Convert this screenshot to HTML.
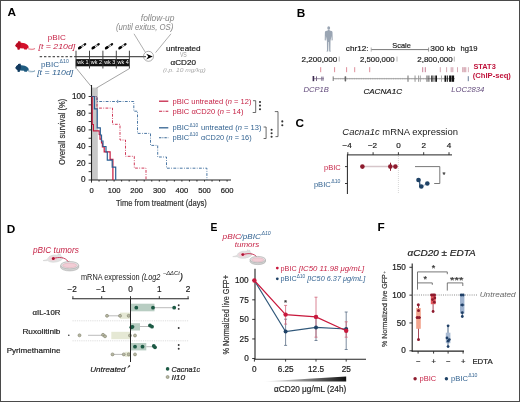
<!DOCTYPE html>
<html><head><meta charset="utf-8"><style>
html,body{margin:0;padding:0;background:#fff;}
svg{display:block;font-family:"Liberation Sans",sans-serif;will-change:transform;}
</style></head><body>
<svg width="520" height="402" viewBox="0 0 520 402">
<rect x="0" y="0" width="520" height="402" fill="#fff"/>
<text x="7.6" y="16.2" font-size="11.8" fill="#000" font-weight="bold">A</text>
<path d="M15.30,45.70 C15.90,44.30 16.80,43.30 17.80,42.80 L18.10,41.60 L20.30,41.50 L20.60,42.90 C22.80,42.70 25.80,43.30 27.60,45.10 C28.60,46.10 28.90,47.30 28.30,48.10 L27.10,48.50 L26.90,49.50 L24.30,49.50 L23.90,48.50 L19.70,48.30 L19.50,49.40 L17.70,49.40 L17.50,47.60 C16.70,47.30 15.80,46.60 15.30,45.70 Z" stroke="none" fill="#d3102b" stroke-width="1"/>
<path d="M15.30,45.70 C15.90,44.30 16.80,43.30 17.80,42.80 L18.10,41.60 L20.30,41.50 L20.60,42.90 C21.30,44.50 20.80,46.50 19.70,48.30 L19.50,49.40 L17.70,49.40 L17.50,47.60 C16.70,47.30 15.80,46.60 15.30,45.70 Z" stroke="none" fill="#b80c22" stroke-width="1"/>
<path d="M27.90,47.90 C29.90,49.10 32.50,49.40 34.70,48.80 L34.40,48.00 M34.70,48.80 C32.30,50.00 29.50,49.90 27.70,48.70" stroke="#d3102b" fill="none" stroke-width="0.5" opacity="0.7"/>
<path d="M15.40,68.00 C16.00,66.60 16.90,65.60 17.90,65.10 L18.20,63.90 L20.40,63.80 L20.70,65.20 C22.90,65.00 25.90,65.60 27.70,67.40 C28.70,68.40 29.00,69.60 28.40,70.40 L27.20,70.80 L27.00,71.80 L24.40,71.80 L24.00,70.80 L19.80,70.60 L19.60,71.70 L17.80,71.70 L17.60,69.90 C16.80,69.60 15.90,68.90 15.40,68.00 Z" stroke="none" fill="#1f5b80" stroke-width="1"/>
<path d="M15.40,68.00 C16.00,66.60 16.90,65.60 17.90,65.10 L18.20,63.90 L20.40,63.80 L20.70,65.20 C21.40,66.80 20.90,68.80 19.80,70.60 L19.60,71.70 L17.80,71.70 L17.60,69.90 C16.80,69.60 15.90,68.90 15.40,68.00 Z" stroke="none" fill="#143a5e" stroke-width="1"/>
<path d="M28.00,70.20 C30.00,71.40 32.60,71.70 34.80,71.10 L34.50,70.30 M34.80,71.10 C32.40,72.30 29.60,72.20 27.80,71.00" stroke="#1f5b80" fill="none" stroke-width="0.5" opacity="0.7"/>
<text x="47.8" y="39.7" font-size="8" fill="#c62447" textLength="18" lengthAdjust="spacingAndGlyphs">pBIC</text>
<text x="38.5" y="49.2" font-size="8" fill="#c62447" font-style="italic" textLength="36.7" lengthAdjust="spacingAndGlyphs">[t = 210d]</text>
<text x="41" y="66.7" font-size="8" fill="#336391" textLength="18" lengthAdjust="spacingAndGlyphs">pBIC</text>
<text x="59.6" y="62.6" font-size="4.6" fill="#336391" textLength="9.2" lengthAdjust="spacingAndGlyphs">Δ10</text>
<text x="37.2" y="75" font-size="8" fill="#336391" font-style="italic" textLength="36" lengthAdjust="spacingAndGlyphs">[t = 110d]</text>
<line x1="39.7" y1="56.7" x2="76" y2="56.7" stroke="#555" stroke-width="1.2" stroke-dasharray="2.4 1.9"/>
<line x1="76" y1="56.6" x2="146" y2="56.6" stroke="#555" stroke-width="1.3"/>
<rect x="75.8" y="59.1" width="53.5" height="7.2" fill="#111"/>
<line x1="76" y1="50.7" x2="76" y2="68.5" stroke="#333" stroke-width="0.9"/>
<line x1="89.5" y1="50.7" x2="89.5" y2="68.5" stroke="#333" stroke-width="0.9"/>
<line x1="102.9" y1="50.7" x2="102.9" y2="68.5" stroke="#333" stroke-width="0.9"/>
<line x1="116.3" y1="50.7" x2="116.3" y2="68.5" stroke="#333" stroke-width="0.9"/>
<line x1="129.4" y1="50.7" x2="129.4" y2="68.5" stroke="#333" stroke-width="0.9"/>
<text x="77.3" y="64.4" font-size="5.5" fill="#fff" textLength="11.2" lengthAdjust="spacingAndGlyphs">wk 1</text>
<text x="90.8" y="64.4" font-size="5.5" fill="#fff" textLength="11.2" lengthAdjust="spacingAndGlyphs">wk 2</text>
<text x="104.2" y="64.4" font-size="5.5" fill="#fff" textLength="11.2" lengthAdjust="spacingAndGlyphs">wk 3</text>
<text x="117.6" y="64.4" font-size="5.5" fill="#fff" textLength="11.2" lengthAdjust="spacingAndGlyphs">wk 4</text>
<line x1="79.6" y1="47.8" x2="84.9" y2="44.4" stroke="#6a6a6a" stroke-width="2.1" stroke-linecap="round"/>
<ellipse cx="79.9" cy="47.7" rx="2.2" ry="1.35" fill="#000" transform="rotate(-33 79.9 47.7)"/>
<ellipse cx="84.9" cy="44.4" rx="1.5" ry="1.1" fill="#111" transform="rotate(-33 84.9 44.4)"/>
<circle cx="82" cy="46.3" r="0.55" fill="#fff" stroke="none" stroke-width="0.6"/>
<circle cx="83.4" cy="45.4" r="0.55" fill="#fff" stroke="none" stroke-width="0.6"/>
<line x1="93.1" y1="47.8" x2="98.4" y2="44.4" stroke="#6a6a6a" stroke-width="2.1" stroke-linecap="round"/>
<ellipse cx="93.4" cy="47.7" rx="2.2" ry="1.35" fill="#000" transform="rotate(-33 93.4 47.7)"/>
<ellipse cx="98.4" cy="44.4" rx="1.5" ry="1.1" fill="#111" transform="rotate(-33 98.4 44.4)"/>
<circle cx="95.5" cy="46.3" r="0.55" fill="#fff" stroke="none" stroke-width="0.6"/>
<circle cx="96.9" cy="45.4" r="0.55" fill="#fff" stroke="none" stroke-width="0.6"/>
<line x1="106.5" y1="47.8" x2="111.80000000000001" y2="44.4" stroke="#6a6a6a" stroke-width="2.1" stroke-linecap="round"/>
<ellipse cx="106.80000000000001" cy="47.7" rx="2.2" ry="1.35" fill="#000" transform="rotate(-33 106.80000000000001 47.7)"/>
<ellipse cx="111.80000000000001" cy="44.4" rx="1.5" ry="1.1" fill="#111" transform="rotate(-33 111.80000000000001 44.4)"/>
<circle cx="108.9" cy="46.3" r="0.55" fill="#fff" stroke="none" stroke-width="0.6"/>
<circle cx="110.30000000000001" cy="45.4" r="0.55" fill="#fff" stroke="none" stroke-width="0.6"/>
<line x1="119.89999999999999" y1="47.8" x2="125.2" y2="44.4" stroke="#6a6a6a" stroke-width="2.1" stroke-linecap="round"/>
<ellipse cx="120.2" cy="47.7" rx="2.2" ry="1.35" fill="#000" transform="rotate(-33 120.2 47.7)"/>
<ellipse cx="125.2" cy="44.4" rx="1.5" ry="1.1" fill="#111" transform="rotate(-33 125.2 44.4)"/>
<circle cx="122.3" cy="46.3" r="0.55" fill="#fff" stroke="none" stroke-width="0.6"/>
<circle cx="123.7" cy="45.4" r="0.55" fill="#fff" stroke="none" stroke-width="0.6"/>
<text x="174.5" y="20.7" font-size="8.4" fill="#858585" font-style="italic" text-anchor="end" textLength="33.7" lengthAdjust="spacingAndGlyphs">follow-up</text>
<text x="173.4" y="30.3" font-size="8.2" fill="#858585" font-style="italic" text-anchor="end" textLength="57.5" lengthAdjust="spacingAndGlyphs">(until exitus, OS)</text>
<line x1="134" y1="33.8" x2="145.3" y2="52.2" stroke="#777" stroke-width="0.6"/>
<line x1="171" y1="33.8" x2="155.6" y2="52.6" stroke="#777" stroke-width="0.6"/>
<circle cx="148.5" cy="56.3" r="5" fill="none" stroke="#777" stroke-width="0.6"/>
<path d="M152.8,56.6 L146.2,53.7 L148.3,56.6 L146.2,59.5 Z" stroke="none" fill="#000" stroke-width="1"/>
<text x="166" y="51" font-size="8.1" fill="#222" textLength="34.6" lengthAdjust="spacingAndGlyphs" stroke="#222" stroke-width="0.2">untreated</text>
<text x="179.9" y="57.2" font-size="7.2" fill="#a0a0a0" textLength="6.9" lengthAdjust="spacingAndGlyphs">VS</text>
<text x="170.6" y="64.8" font-size="7.8" fill="#222" textLength="25.4" lengthAdjust="spacingAndGlyphs" stroke="#222" stroke-width="0.2">αCD20</text>
<text x="163" y="71.8" font-size="6.2" fill="#aaa" font-style="italic" textLength="42.7" lengthAdjust="spacingAndGlyphs">(i.p. 10 mg/kg)</text>
<rect x="91.5" y="87.6" width="6.3" height="92.4" fill="#c8c8c8"/>
<line x1="76.6" y1="68.6" x2="90.8" y2="86" stroke="#666" stroke-width="0.6"/>
<line x1="129.4" y1="68.6" x2="96.5" y2="88" stroke="#666" stroke-width="0.6"/>
<line x1="91.5" y1="85" x2="91.5" y2="180.5" stroke="#222" stroke-width="1.1"/>
<line x1="91" y1="180" x2="231" y2="180" stroke="#222" stroke-width="1.1"/>
<line x1="91.5" y1="180" x2="91.5" y2="182.6" stroke="#222" stroke-width="0.9"/>
<line x1="99.03333333333333" y1="180" x2="99.03333333333333" y2="181.6" stroke="#222" stroke-width="0.9"/>
<line x1="106.56666666666666" y1="180" x2="106.56666666666666" y2="181.6" stroke="#222" stroke-width="0.9"/>
<line x1="114.10000000000001" y1="180" x2="114.10000000000001" y2="181.6" stroke="#222" stroke-width="0.9"/>
<line x1="121.63333333333334" y1="180" x2="121.63333333333334" y2="181.6" stroke="#222" stroke-width="0.9"/>
<line x1="129.16666666666666" y1="180" x2="129.16666666666666" y2="181.6" stroke="#222" stroke-width="0.9"/>
<line x1="136.70000000000002" y1="180" x2="136.70000000000002" y2="181.6" stroke="#222" stroke-width="0.9"/>
<line x1="144.23333333333335" y1="180" x2="144.23333333333335" y2="181.6" stroke="#222" stroke-width="0.9"/>
<line x1="151.76666666666668" y1="180" x2="151.76666666666668" y2="181.6" stroke="#222" stroke-width="0.9"/>
<line x1="159.3" y1="180" x2="159.3" y2="181.6" stroke="#222" stroke-width="0.9"/>
<line x1="166.83333333333331" y1="180" x2="166.83333333333331" y2="181.6" stroke="#222" stroke-width="0.9"/>
<line x1="174.36666666666667" y1="180" x2="174.36666666666667" y2="181.6" stroke="#222" stroke-width="0.9"/>
<line x1="181.90000000000003" y1="180" x2="181.90000000000003" y2="181.6" stroke="#222" stroke-width="0.9"/>
<line x1="189.43333333333334" y1="180" x2="189.43333333333334" y2="181.6" stroke="#222" stroke-width="0.9"/>
<line x1="196.9666666666667" y1="180" x2="196.9666666666667" y2="181.6" stroke="#222" stroke-width="0.9"/>
<line x1="204.5" y1="180" x2="204.5" y2="181.6" stroke="#222" stroke-width="0.9"/>
<line x1="212.03333333333336" y1="180" x2="212.03333333333336" y2="181.6" stroke="#222" stroke-width="0.9"/>
<line x1="219.5666666666667" y1="180" x2="219.5666666666667" y2="181.6" stroke="#222" stroke-width="0.9"/>
<line x1="227.1" y1="180" x2="227.1" y2="181.6" stroke="#222" stroke-width="0.9"/>
<line x1="88.6" y1="180.0" x2="91.5" y2="180.0" stroke="#222" stroke-width="0.9"/>
<line x1="88.6" y1="171.65" x2="91.5" y2="171.65" stroke="#222" stroke-width="0.9"/>
<line x1="88.6" y1="163.3" x2="91.5" y2="163.3" stroke="#222" stroke-width="0.9"/>
<line x1="88.6" y1="154.95" x2="91.5" y2="154.95" stroke="#222" stroke-width="0.9"/>
<line x1="88.6" y1="146.6" x2="91.5" y2="146.6" stroke="#222" stroke-width="0.9"/>
<line x1="88.6" y1="138.25" x2="91.5" y2="138.25" stroke="#222" stroke-width="0.9"/>
<line x1="88.6" y1="129.9" x2="91.5" y2="129.9" stroke="#222" stroke-width="0.9"/>
<line x1="88.6" y1="121.55000000000001" x2="91.5" y2="121.55000000000001" stroke="#222" stroke-width="0.9"/>
<line x1="88.6" y1="113.2" x2="91.5" y2="113.2" stroke="#222" stroke-width="0.9"/>
<line x1="88.6" y1="104.85000000000001" x2="91.5" y2="104.85000000000001" stroke="#222" stroke-width="0.9"/>
<line x1="88.6" y1="96.5" x2="91.5" y2="96.5" stroke="#222" stroke-width="0.9"/>
<text x="85.6" y="182.4" font-size="8.2" fill="#222" text-anchor="end" stroke="#222" stroke-width="0.2">0</text>
<text x="85.6" y="165.70000000000002" font-size="8.2" fill="#222" text-anchor="end" stroke="#222" stroke-width="0.2">20</text>
<text x="85.6" y="149.0" font-size="8.2" fill="#222" text-anchor="end" stroke="#222" stroke-width="0.2">40</text>
<text x="85.6" y="132.3" font-size="8.2" fill="#222" text-anchor="end" stroke="#222" stroke-width="0.2">60</text>
<text x="85.6" y="115.60000000000001" font-size="8.2" fill="#222" text-anchor="end" stroke="#222" stroke-width="0.2">80</text>
<text x="85.6" y="98.9" font-size="8.2" fill="#222" text-anchor="end" stroke="#222" stroke-width="0.2">100</text>
<text x="91.5" y="192.7" font-size="7.6" fill="#222" text-anchor="middle" stroke="#222" stroke-width="0.2">0</text>
<text x="114.1" y="192.7" font-size="7.6" fill="#222" text-anchor="middle" stroke="#222" stroke-width="0.2">100</text>
<text x="136.7" y="192.7" font-size="7.6" fill="#222" text-anchor="middle" stroke="#222" stroke-width="0.2">200</text>
<text x="159.3" y="192.7" font-size="7.6" fill="#222" text-anchor="middle" stroke="#222" stroke-width="0.2">300</text>
<text x="181.9" y="192.7" font-size="7.6" fill="#222" text-anchor="middle" stroke="#222" stroke-width="0.2">400</text>
<text x="204.5" y="192.7" font-size="7.6" fill="#222" text-anchor="middle" stroke="#222" stroke-width="0.2">500</text>
<text x="227.10000000000002" y="192.7" font-size="7.6" fill="#222" text-anchor="middle" stroke="#222" stroke-width="0.2">600</text>
<text x="161.4" y="205.5" font-size="9.2" fill="#333" text-anchor="middle" textLength="90.8" lengthAdjust="spacingAndGlyphs" stroke="#333" stroke-width="0.2">Time from treatment (days)</text>
<text x="0" y="0" font-size="8.9" fill="#333" text-anchor="middle" textLength="66.3" lengthAdjust="spacingAndGlyphs" stroke="#333" stroke-width="0.2" transform="translate(65.2,131.8) rotate(-90)">Overall survival (%)</text>
<path d="M91.5,96.5 H92.2 V124.5 H93.4 V130.9 H99.2 V134.5 H100 V139.2 H101.5 V143 H102.4 V147 H104.2 V151.8 H110.1 V159.4 H112.9 V180" stroke="#c8183c" fill="none" stroke-width="1.2"/>
<path d="M91.5,96.5 H94.4 V108.8 H97.2 V127.8 H100.3 V135 H101.5 V141 H103 V146.5 H106 V152 H107.3 V160.1 H112.2 V167.1 H115.7 V180" stroke="#2b5f93" fill="none" stroke-width="1.2"/>
<path d="M91.5,96.5 H97 V108.1 H112.5 V124.3 H120 V140 H125.5 V156.3 H134.3 V168.1 H146 V180" stroke="#c8183c" fill="none" stroke-width="0.85" stroke-dasharray="2.8 1.4 0.8 1.4"/>
<path d="M91.5,96.5 H97 V101.5 H133.8 V111.2 H137.5 V133.4 H150.5 V145.4 H157.7 V157 H166.5 V168.2 H206.9 V180" stroke="#2b5f93" fill="none" stroke-width="0.85" stroke-dasharray="2.8 1.4 0.8 1.4"/>
<line x1="117.7" y1="99.9" x2="117.7" y2="103" stroke="#2b5f93" stroke-width="0.7"/>
<line x1="159" y1="101.2" x2="168.3" y2="101.2" stroke="#c62447" stroke-width="1.3"/>
<line x1="159" y1="111.3" x2="168.3" y2="111.3" stroke="#c62447" stroke-width="1.1" stroke-dasharray="3.2 1.2 1 1.2"/>
<line x1="159" y1="127.8" x2="168.3" y2="127.8" stroke="#336391" stroke-width="1.3"/>
<line x1="159" y1="137.8" x2="168.3" y2="137.8" stroke="#336391" stroke-width="1.1" stroke-dasharray="2.4 1 1 1"/>
<text x="172.5" y="103.5" font-size="7.4" fill="#c62447" textLength="79" lengthAdjust="spacingAndGlyphs">pBIC untreated (<tspan font-style="italic">n</tspan> = 12)</text>
<text x="172.5" y="113.8" font-size="7.4" fill="#c62447" textLength="71" lengthAdjust="spacingAndGlyphs">pBIC αCD20 (<tspan font-style="italic">n</tspan> = 14)</text>
<text x="172.5" y="130.1" font-size="7.4" fill="#336391" textLength="16.6" lengthAdjust="spacingAndGlyphs">pBIC</text>
<text x="189.6" y="126.6" font-size="4.6" fill="#336391" textLength="8.6" lengthAdjust="spacingAndGlyphs">Δ10</text>
<text x="201.1" y="130.1" font-size="7.4" fill="#336391" textLength="60.4" lengthAdjust="spacingAndGlyphs">untreated (<tspan font-style="italic">n</tspan> = 13)</text>
<text x="172.5" y="139.9" font-size="7.4" fill="#336391" textLength="16.6" lengthAdjust="spacingAndGlyphs">pBIC</text>
<text x="189.6" y="136.4" font-size="4.6" fill="#336391" textLength="8.6" lengthAdjust="spacingAndGlyphs">Δ10</text>
<text x="201.1" y="139.9" font-size="7.4" fill="#336391" textLength="50.5" lengthAdjust="spacingAndGlyphs">αCD20 (<tspan font-style="italic">n</tspan> = 16)</text>
<path d="M253,100.7 H255.7 V112.5 H252.7" stroke="#444" fill="none" stroke-width="0.8"/>
<path d="M263.6,127 H266.1 V138.5 H263.6" stroke="#444" fill="none" stroke-width="0.8"/>
<path d="M274.8,111.6 H278 V136.6 H275.5" stroke="#444" fill="none" stroke-width="0.8"/>
<circle cx="260" cy="102" r="1.05" fill="#333" stroke="none" stroke-width="0.6"/>
<circle cx="260" cy="105.6" r="1.05" fill="#333" stroke="none" stroke-width="0.6"/>
<circle cx="260" cy="109.2" r="1.05" fill="#333" stroke="none" stroke-width="0.6"/>
<circle cx="271.6" cy="129.8" r="1.05" fill="#333" stroke="none" stroke-width="0.6"/>
<circle cx="271.6" cy="133.3" r="1.05" fill="#333" stroke="none" stroke-width="0.6"/>
<circle cx="271.6" cy="136.8" r="1.05" fill="#333" stroke="none" stroke-width="0.6"/>
<circle cx="282.3" cy="121.4" r="1.05" fill="#333" stroke="none" stroke-width="0.6"/>
<circle cx="282.3" cy="125.2" r="1.05" fill="#333" stroke="none" stroke-width="0.6"/>
<text x="296.8" y="16.6" font-size="11.8" fill="#000" font-weight="bold">B</text>
<ellipse cx="328.7" cy="27.9" rx="1.45" ry="1.6" fill="#9aa5b3"/>
<path d="M327.9,29.6 L329.5,29.6 L329.6,30.6 L331.6,31 Q332.5,31.3 332.5,32.3 L332.7,40.2 L331.6,40.4 L331.5,36 L330.5,41 L330.4,50.6 L331,51.4 L329.2,51.4 L329,42 L328.5,42 L328.2,51.4 L326.4,51.4 L327,50.6 L326.9,41 L325.9,36 L325.8,40.4 L324.7,40.2 L324.9,32.3 Q324.9,31.3 325.8,31 L327.8,30.6 Z" stroke="none" fill="#9aa5b3" stroke-width="1"/>
<text x="345.8" y="51.2" font-size="8" fill="#222" textLength="22.7" lengthAdjust="spacingAndGlyphs" stroke="#222" stroke-width="0.2">chr12:</text>
<line x1="371" y1="49.6" x2="428.8" y2="49.6" stroke="#555" stroke-width="0.8"/>
<line x1="371.2" y1="47.5" x2="371.2" y2="51.6" stroke="#aaa" stroke-width="0.9"/>
<line x1="428.6" y1="47.5" x2="428.6" y2="51.6" stroke="#888" stroke-width="0.9"/>
<text x="392.3" y="47.6" font-size="7.8" fill="#222" textLength="18.5" lengthAdjust="spacingAndGlyphs" stroke="#222" stroke-width="0.2">Scale</text>
<text x="430.3" y="51.2" font-size="8" fill="#222" textLength="25.1" lengthAdjust="spacingAndGlyphs" stroke="#222" stroke-width="0.2">300 kb</text>
<text x="460.5" y="51.2" font-size="7.8" fill="#222" textLength="16.9" lengthAdjust="spacingAndGlyphs" stroke="#222" stroke-width="0.2">hg19</text>
<text x="301.5" y="61.6" font-size="8" fill="#222" textLength="35.8" lengthAdjust="spacingAndGlyphs" stroke="#222" stroke-width="0.2">2,200,000</text>
<text x="360" y="61.6" font-size="8" fill="#222" textLength="34.6" lengthAdjust="spacingAndGlyphs" stroke="#222" stroke-width="0.2">2,500,000</text>
<text x="417.3" y="61.6" font-size="8" fill="#222" textLength="35.4" lengthAdjust="spacingAndGlyphs" stroke="#222" stroke-width="0.2">2,800,000</text>
<line x1="339.2" y1="56.6" x2="339.2" y2="61.6" stroke="#aaa" stroke-width="0.9"/>
<line x1="397" y1="56.6" x2="397" y2="61.6" stroke="#aaa" stroke-width="0.9"/>
<line x1="454.3" y1="56.6" x2="454.3" y2="61.6" stroke="#aaa" stroke-width="0.9"/>
<rect x="462.7" y="67.2" width="3.1" height="5" fill="#f3dde2"/>
<line x1="320.7" y1="67.2" x2="320.7" y2="72.2" stroke="#d47080" stroke-width="0.8"/>
<line x1="334.6" y1="67.2" x2="334.6" y2="72.2" stroke="#d47080" stroke-width="0.8"/>
<line x1="346.6" y1="67.2" x2="346.6" y2="72.2" stroke="#d47080" stroke-width="0.8"/>
<line x1="354.7" y1="67.2" x2="354.7" y2="72.2" stroke="#d47080" stroke-width="0.8"/>
<line x1="369.7" y1="67.2" x2="369.7" y2="72.2" stroke="#d47080" stroke-width="0.8"/>
<line x1="422.7" y1="67.2" x2="422.7" y2="72.2" stroke="#b8607a" stroke-width="0.8"/>
<line x1="425.3" y1="67.2" x2="425.3" y2="72.2" stroke="#b8607a" stroke-width="0.8"/>
<line x1="440.3" y1="67.2" x2="440.3" y2="72.2" stroke="#c8909e" stroke-width="0.8"/>
<line x1="446.6" y1="67.2" x2="446.6" y2="72.2" stroke="#c8909e" stroke-width="0.8"/>
<line x1="451.2" y1="67.2" x2="451.2" y2="72.2" stroke="#c48898" stroke-width="0.8"/>
<line x1="452.8" y1="67.2" x2="452.8" y2="72.2" stroke="#c48898" stroke-width="0.8"/>
<line x1="457.5" y1="67.2" x2="457.5" y2="72.2" stroke="#c8909e" stroke-width="0.8"/>
<line x1="462.7" y1="67.2" x2="462.7" y2="72.2" stroke="#c8909e" stroke-width="0.8"/>
<line x1="464.2" y1="67.2" x2="464.2" y2="72.2" stroke="#c8909e" stroke-width="0.8"/>
<line x1="465.8" y1="67.2" x2="465.8" y2="72.2" stroke="#c8909e" stroke-width="0.8"/>
<line x1="468.4" y1="67.2" x2="468.4" y2="72.2" stroke="#d0a0ac" stroke-width="0.8"/>
<text x="473.4" y="68.5" font-size="7.8" fill="#c0143c" font-weight="bold" textLength="22.4" lengthAdjust="spacingAndGlyphs">STAT3</text>
<text x="472.7" y="77.5" font-size="7.8" fill="#c0143c" font-weight="bold" textLength="38.2" lengthAdjust="spacingAndGlyphs">(ChIP-seq)</text>
<line x1="314" y1="78.7" x2="324" y2="78.7" stroke="#6a5a7a" stroke-width="0.7"/>
<rect x="312.6" y="76" width="1.6" height="5.2" fill="#3e2c50"/>
<rect x="316.1" y="76.4" width="0.9" height="4.6" fill="#6a5a7a"/>
<rect x="321.3" y="76.6" width="0.9" height="4.2" fill="#7a6a8a"/>
<rect x="322.6" y="76.6" width="0.9" height="4.2" fill="#7a6a8a"/>
<line x1="333.2" y1="78.7" x2="455" y2="78.7" stroke="#777" stroke-width="0.7"/>
<line x1="333.2" y1="76.4" x2="333.2" y2="81" stroke="#555" stroke-width="0.8"/>
<line x1="336.0" y1="77.9" x2="336.0" y2="79.5" stroke="#999" stroke-width="0.4"/>
<line x1="338.3" y1="77.9" x2="338.3" y2="79.5" stroke="#999" stroke-width="0.4"/>
<line x1="340.6" y1="77.9" x2="340.6" y2="79.5" stroke="#999" stroke-width="0.4"/>
<line x1="342.9" y1="77.9" x2="342.9" y2="79.5" stroke="#999" stroke-width="0.4"/>
<line x1="345.2" y1="77.9" x2="345.2" y2="79.5" stroke="#999" stroke-width="0.4"/>
<line x1="347.5" y1="77.9" x2="347.5" y2="79.5" stroke="#999" stroke-width="0.4"/>
<line x1="349.8" y1="77.9" x2="349.8" y2="79.5" stroke="#999" stroke-width="0.4"/>
<line x1="352.1" y1="77.9" x2="352.1" y2="79.5" stroke="#999" stroke-width="0.4"/>
<line x1="354.4" y1="77.9" x2="354.4" y2="79.5" stroke="#999" stroke-width="0.4"/>
<line x1="356.7" y1="77.9" x2="356.7" y2="79.5" stroke="#999" stroke-width="0.4"/>
<line x1="359.0" y1="77.9" x2="359.0" y2="79.5" stroke="#999" stroke-width="0.4"/>
<line x1="361.3" y1="77.9" x2="361.3" y2="79.5" stroke="#999" stroke-width="0.4"/>
<line x1="363.6" y1="77.9" x2="363.6" y2="79.5" stroke="#999" stroke-width="0.4"/>
<line x1="365.9" y1="77.9" x2="365.9" y2="79.5" stroke="#999" stroke-width="0.4"/>
<line x1="368.2" y1="77.9" x2="368.2" y2="79.5" stroke="#999" stroke-width="0.4"/>
<line x1="370.5" y1="77.9" x2="370.5" y2="79.5" stroke="#999" stroke-width="0.4"/>
<line x1="372.8" y1="77.9" x2="372.8" y2="79.5" stroke="#999" stroke-width="0.4"/>
<line x1="375.1" y1="77.9" x2="375.1" y2="79.5" stroke="#999" stroke-width="0.4"/>
<line x1="377.4" y1="77.9" x2="377.4" y2="79.5" stroke="#999" stroke-width="0.4"/>
<line x1="379.7" y1="77.9" x2="379.7" y2="79.5" stroke="#999" stroke-width="0.4"/>
<line x1="382.0" y1="77.9" x2="382.0" y2="79.5" stroke="#999" stroke-width="0.4"/>
<line x1="384.3" y1="77.9" x2="384.3" y2="79.5" stroke="#999" stroke-width="0.4"/>
<line x1="386.6" y1="77.9" x2="386.6" y2="79.5" stroke="#999" stroke-width="0.4"/>
<line x1="388.9" y1="77.9" x2="388.9" y2="79.5" stroke="#999" stroke-width="0.4"/>
<line x1="391.2" y1="77.9" x2="391.2" y2="79.5" stroke="#999" stroke-width="0.4"/>
<line x1="393.5" y1="77.9" x2="393.5" y2="79.5" stroke="#999" stroke-width="0.4"/>
<line x1="395.8" y1="77.9" x2="395.8" y2="79.5" stroke="#999" stroke-width="0.4"/>
<line x1="398.1" y1="77.9" x2="398.1" y2="79.5" stroke="#999" stroke-width="0.4"/>
<line x1="400.4" y1="77.9" x2="400.4" y2="79.5" stroke="#999" stroke-width="0.4"/>
<line x1="402.7" y1="77.9" x2="402.7" y2="79.5" stroke="#999" stroke-width="0.4"/>
<line x1="405.0" y1="77.9" x2="405.0" y2="79.5" stroke="#999" stroke-width="0.4"/>
<line x1="407.3" y1="77.9" x2="407.3" y2="79.5" stroke="#999" stroke-width="0.4"/>
<line x1="409.6" y1="77.9" x2="409.6" y2="79.5" stroke="#999" stroke-width="0.4"/>
<line x1="411.9" y1="77.9" x2="411.9" y2="79.5" stroke="#999" stroke-width="0.4"/>
<line x1="414.2" y1="77.9" x2="414.2" y2="79.5" stroke="#999" stroke-width="0.4"/>
<line x1="416.5" y1="77.9" x2="416.5" y2="79.5" stroke="#999" stroke-width="0.4"/>
<line x1="418.8" y1="77.9" x2="418.8" y2="79.5" stroke="#999" stroke-width="0.4"/>
<line x1="421.1" y1="77.9" x2="421.1" y2="79.5" stroke="#999" stroke-width="0.4"/>
<line x1="423.4" y1="77.9" x2="423.4" y2="79.5" stroke="#999" stroke-width="0.4"/>
<line x1="425.7" y1="77.9" x2="425.7" y2="79.5" stroke="#999" stroke-width="0.4"/>
<line x1="428.0" y1="77.9" x2="428.0" y2="79.5" stroke="#999" stroke-width="0.4"/>
<line x1="430.3" y1="77.9" x2="430.3" y2="79.5" stroke="#999" stroke-width="0.4"/>
<line x1="432.6" y1="77.9" x2="432.6" y2="79.5" stroke="#999" stroke-width="0.4"/>
<line x1="434.9" y1="77.9" x2="434.9" y2="79.5" stroke="#999" stroke-width="0.4"/>
<line x1="437.2" y1="77.9" x2="437.2" y2="79.5" stroke="#999" stroke-width="0.4"/>
<line x1="439.5" y1="77.9" x2="439.5" y2="79.5" stroke="#999" stroke-width="0.4"/>
<line x1="441.8" y1="77.9" x2="441.8" y2="79.5" stroke="#999" stroke-width="0.4"/>
<line x1="444.1" y1="77.9" x2="444.1" y2="79.5" stroke="#999" stroke-width="0.4"/>
<line x1="446.4" y1="77.9" x2="446.4" y2="79.5" stroke="#999" stroke-width="0.4"/>
<line x1="448.7" y1="77.9" x2="448.7" y2="79.5" stroke="#999" stroke-width="0.4"/>
<line x1="451.0" y1="77.9" x2="451.0" y2="79.5" stroke="#999" stroke-width="0.4"/>
<line x1="453.3" y1="77.9" x2="453.3" y2="79.5" stroke="#999" stroke-width="0.4"/>
<rect x="344.6" y="76.2" width="1.6" height="5.2" rx="0.6" fill="#666"/>
<rect x="407.2" y="75.5" width="0.6" height="6.3" fill="#888"/>
<rect x="408.2" y="75.5" width="0.6" height="6.3" fill="#888"/>
<rect x="414.6" y="75.5" width="0.9" height="6.3" fill="#888"/>
<rect x="418" y="75.5" width="0.9" height="6.3" fill="#999"/>
<rect x="419.8" y="75.5" width="0.9" height="6.3" fill="#999"/>
<rect x="426.1" y="75.5" width="0.7" height="6.3" fill="#888"/>
<rect x="427.1" y="75.5" width="0.7" height="6.3" fill="#888"/>
<rect x="428.4" y="75.5" width="1" height="6.3" fill="#555"/>
<rect x="431.2" y="75.5" width="1" height="6.3" fill="#222"/>
<rect x="432.5" y="75.5" width="0.9" height="6.3" fill="#222"/>
<rect x="434.7" y="75.5" width="1" height="6.3" fill="#111"/>
<rect x="436" y="75.5" width="1" height="6.3" fill="#111"/>
<rect x="441.2" y="75.5" width="0.8" height="6.3" fill="#999"/>
<rect x="444.5" y="75.5" width="1.6" height="6.3" fill="#111"/>
<rect x="446.8" y="75.5" width="1" height="6.3" fill="#111"/>
<rect x="449.1" y="75.5" width="2" height="6.3" fill="#111"/>
<rect x="451.5" y="75.5" width="2.6" height="6.3" fill="#111"/>
<rect x="467.7" y="76.2" width="1.3" height="5" fill="#8a9bb0"/>
<text x="303.4" y="91.6" font-size="8" fill="#634b7c" font-style="italic" textLength="25.4" lengthAdjust="spacingAndGlyphs">DCP1B</text>
<text x="363.4" y="93.9" font-size="8.1" fill="#222" font-style="italic" textLength="38.6" lengthAdjust="spacingAndGlyphs" stroke="#222" stroke-width="0.2">CACNA1C</text>
<text x="451.3" y="91.6" font-size="8" fill="#634b7c" font-style="italic" textLength="33" lengthAdjust="spacingAndGlyphs">LOC2834</text>
<text x="295.6" y="126.9" font-size="11.8" fill="#000" font-weight="bold">C</text>
<text x="342.3" y="135" font-size="9.2" fill="#222" textLength="115.7" lengthAdjust="spacingAndGlyphs"><tspan font-style="italic">Cacna1c</tspan> mRNA expression</text>
<text x="347.19999999999993" y="148.1" font-size="8.1" fill="#222" text-anchor="middle" stroke="#222" stroke-width="0.2">−4</text>
<line x1="347.79999999999995" y1="154.9" x2="347.79999999999995" y2="152.2" stroke="#222" stroke-width="0.9"/>
<text x="372.49999999999994" y="148.1" font-size="8.1" fill="#222" text-anchor="middle" stroke="#222" stroke-width="0.2">−2</text>
<line x1="373.09999999999997" y1="154.9" x2="373.09999999999997" y2="152.2" stroke="#222" stroke-width="0.9"/>
<text x="398.4" y="148.1" font-size="8.1" fill="#222" text-anchor="middle" stroke="#222" stroke-width="0.2">0</text>
<line x1="398.4" y1="154.9" x2="398.4" y2="152.2" stroke="#222" stroke-width="0.9"/>
<text x="423.7" y="148.1" font-size="8.1" fill="#222" text-anchor="middle" stroke="#222" stroke-width="0.2">2</text>
<line x1="423.7" y1="154.9" x2="423.7" y2="152.2" stroke="#222" stroke-width="0.9"/>
<text x="449.0" y="148.1" font-size="8.1" fill="#222" text-anchor="middle" stroke="#222" stroke-width="0.2">4</text>
<line x1="449.0" y1="154.9" x2="449.0" y2="152.2" stroke="#222" stroke-width="0.9"/>
<line x1="347.4" y1="154.9" x2="452" y2="154.9" stroke="#222" stroke-width="1"/>
<line x1="347.4" y1="154.4" x2="347.4" y2="194" stroke="#222" stroke-width="1"/>
<line x1="345" y1="166.6" x2="347.4" y2="166.6" stroke="#222" stroke-width="0.9"/>
<line x1="345" y1="183.5" x2="347.4" y2="183.5" stroke="#222" stroke-width="0.9"/>
<line x1="398.4" y1="156" x2="398.4" y2="194" stroke="#bbb" stroke-width="0.6" stroke-dasharray="1 1"/>
<text x="340.8" y="169.6" font-size="7.6" fill="#c62447" text-anchor="end" textLength="16.8" lengthAdjust="spacingAndGlyphs">pBIC</text>
<text x="313.9" y="186.9" font-size="7.6" fill="#336391" textLength="16.9" lengthAdjust="spacingAndGlyphs">pBIC</text>
<text x="331.2" y="183.2" font-size="4.6" fill="#336391" textLength="9.2" lengthAdjust="spacingAndGlyphs">Δ10</text>
<line x1="362.4" y1="166.6" x2="395.4" y2="166.6" stroke="#d6c6ca" stroke-width="1.5"/>
<line x1="390.5" y1="162.7" x2="390.5" y2="170.8" stroke="#8e1b2e" stroke-width="1"/>
<circle cx="362.4" cy="166.6" r="2.3" fill="#8e1b2e" stroke="none" stroke-width="0.6"/>
<circle cx="390.3" cy="166.6" r="2.3" fill="#8e1b2e" stroke="none" stroke-width="0.6"/>
<circle cx="395.4" cy="166.6" r="2.3" fill="#8e1b2e" stroke="none" stroke-width="0.6"/>
<path d="M418.5,180 L421.3,186.5 L427.3,183.5" stroke="#b8c4d2" fill="none" stroke-width="1.2"/>
<line x1="419.7" y1="179" x2="419.7" y2="187.2" stroke="#1f4266" stroke-width="1"/>
<circle cx="418.5" cy="180" r="2.3" fill="#1f4266" stroke="none" stroke-width="0.6"/>
<circle cx="421.3" cy="186.5" r="2.3" fill="#1f4266" stroke="none" stroke-width="0.6"/>
<circle cx="427.3" cy="183.5" r="2.3" fill="#1f4266" stroke="none" stroke-width="0.6"/>
<path d="M415,166.6 H439.8 V183.5 H434.2" stroke="#555" fill="none" stroke-width="0.8"/>
<text x="443.9" y="177.2" font-size="7.5" fill="#333" text-anchor="middle" stroke="#333" stroke-width="0.2">*</text>
<text x="6.8" y="232.9" font-size="11.8" fill="#000" font-weight="bold">D</text>
<text x="33" y="252.5" font-size="8.2" fill="#c62447" font-style="italic" textLength="45.8" lengthAdjust="spacingAndGlyphs">pBIC tumors</text>
<path d="M43.00,260.60 C44.50,260.20 46.00,259.80 47.50,259.40 C47.80,256.90 51.00,255.00 55.00,255.00 L57.60,255.20 L58.30,253.40 L59.30,255.00 L60.10,253.70 L60.80,255.80 C62.00,256.60 63.00,257.70 62.60,258.80 C61.00,261.00 57.00,262.30 53.00,262.30 C50.50,262.30 48.50,261.40 47.50,260.60 C46.00,260.80 44.50,260.90 43.00,260.60 Z" stroke="#c8c8c8" fill="#e2e2e2" stroke-width="0.4"/>
<ellipse cx="53.00" cy="258.60" rx="4.20" ry="2.30" fill="#f0d2d9"/>
<circle cx="53.3" cy="258.5" r="1.5" fill="#a80f2e" stroke="none" stroke-width="0.6"/>
<path d="M53.30,258.50 C59.00,256.80 65.00,257.00 68.20,261.60" stroke="#c0143c" fill="none" stroke-width="0.8"/>
<path d="M69.10,263.60 L66.90,261.70 L69.40,260.70 Z" stroke="none" fill="#a80f2e" stroke-width="1"/>
<ellipse cx="69.7" cy="267.2" rx="9" ry="3.7" fill="#d4d4d4" stroke="#aaa" stroke-width="0.6"/>
<rect x="60.7" y="265.2" width="18" height="2" fill="#d4d4d4"/>
<line x1="60.7" y1="265.2" x2="60.7" y2="267.2" stroke="#aaa" stroke-width="0.6"/>
<line x1="78.7" y1="265.2" x2="78.7" y2="267.2" stroke="#aaa" stroke-width="0.6"/>
<ellipse cx="69.7" cy="265.2" rx="9" ry="3.7" fill="#e4e4e4" stroke="#a8a8a8" stroke-width="0.6"/>
<ellipse cx="69.7" cy="265.4" rx="7.0200000000000005" ry="2.294" fill="#f2cdd5" stroke="#d9a0ae" stroke-width="0.4"/>
<text x="81" y="279.5" font-size="8.8" fill="#222" textLength="79.4" lengthAdjust="spacingAndGlyphs">mRNA expression <tspan font-style="italic">(Log2</tspan></text>
<text x="162.8" y="275" font-size="5.2" fill="#222" font-style="italic" textLength="17" lengthAdjust="spacingAndGlyphs">−ΔΔCt</text>
<text x="180" y="279.5" font-size="8.8" fill="#222" font-style="italic" stroke="#222" stroke-width="0.2">)</text>
<text x="72.10000000000001" y="292.4" font-size="8.2" fill="#222" text-anchor="middle" stroke="#222" stroke-width="0.2">−2</text>
<line x1="72.9" y1="298.75" x2="72.9" y2="296.2" stroke="#222" stroke-width="0.9"/>
<text x="100.9" y="292.4" font-size="8.2" fill="#222" text-anchor="middle" stroke="#222" stroke-width="0.2">−1</text>
<line x1="101.7" y1="298.75" x2="101.7" y2="296.2" stroke="#222" stroke-width="0.9"/>
<text x="130.5" y="292.4" font-size="8.2" fill="#222" text-anchor="middle" stroke="#222" stroke-width="0.2">0</text>
<line x1="130.5" y1="298.75" x2="130.5" y2="296.2" stroke="#222" stroke-width="0.9"/>
<text x="159.3" y="292.4" font-size="8.2" fill="#222" text-anchor="middle" stroke="#222" stroke-width="0.2">1</text>
<line x1="159.3" y1="298.75" x2="159.3" y2="296.2" stroke="#222" stroke-width="0.9"/>
<text x="188.1" y="292.4" font-size="8.2" fill="#222" text-anchor="middle" stroke="#222" stroke-width="0.2">2</text>
<line x1="188.1" y1="298.75" x2="188.1" y2="296.2" stroke="#222" stroke-width="0.9"/>
<line x1="72.2" y1="298.75" x2="188.8" y2="298.75" stroke="#222" stroke-width="1.2"/>
<line x1="72.5" y1="320.8" x2="188.8" y2="320.8" stroke="#c8c8c8" stroke-width="0.6" stroke-dasharray="1.2 1"/>
<line x1="72.5" y1="340.8" x2="188.8" y2="340.8" stroke="#c8c8c8" stroke-width="0.6" stroke-dasharray="1.2 1"/>
<rect x="130.5" y="303.7" width="24" height="7.6" fill="#b8cdc2"/>
<line x1="154.5" y1="307.7" x2="174.2" y2="307.7" stroke="#aaa" stroke-width="0.8"/>
<circle cx="136.3" cy="307.7" r="1.9" fill="#1d5a45" stroke="none" stroke-width="0.6"/>
<circle cx="153" cy="307.7" r="1.9" fill="#1d5a45" stroke="none" stroke-width="0.6"/>
<circle cx="174.2" cy="307.7" r="1.9" fill="#1d5a45" stroke="none" stroke-width="0.6"/>
<rect x="120" y="312.6" width="10.5" height="6.2" fill="#e5e8d4"/>
<line x1="107" y1="315.8" x2="120" y2="315.8" stroke="#aaa" stroke-width="0.8"/>
<circle cx="107" cy="315.8" r="1.5" fill="#b7b8a2" stroke="#7f806c" stroke-width="0.6"/>
<circle cx="120" cy="315.8" r="1.5" fill="#b7b8a2" stroke="#7f806c" stroke-width="0.6"/>
<circle cx="128.7" cy="315.8" r="1.5" fill="#b7b8a2" stroke="#7f806c" stroke-width="0.6"/>
<rect x="130.5" y="323.2" width="9.5" height="7.3" fill="#b8cdc2"/>
<line x1="140" y1="326.5" x2="151" y2="326.5" stroke="#aaa" stroke-width="0.8"/>
<circle cx="131.3" cy="327.3" r="1.9" fill="#1d5a45" stroke="none" stroke-width="0.6"/>
<circle cx="132.5" cy="326.8" r="1.9" fill="#1d5a45" stroke="none" stroke-width="0.6"/>
<circle cx="150" cy="325.5" r="1.9" fill="#1d5a45" stroke="none" stroke-width="0.6"/>
<circle cx="152" cy="326.7" r="1.9" fill="#1d5a45" stroke="none" stroke-width="0.6"/>
<rect x="111.3" y="331.8" width="19.2" height="7.4" fill="#e5e8d4"/>
<line x1="88" y1="335.3" x2="103" y2="335.3" stroke="#aaa" stroke-width="0.8"/>
<circle cx="68.8" cy="335.3" r="0.8" fill="#333" stroke="none" stroke-width="0.6"/>
<circle cx="79.5" cy="335.3" r="1.5" fill="#b7b8a2" stroke="#7f806c" stroke-width="0.6"/>
<circle cx="103" cy="334.8" r="1.5" fill="#b7b8a2" stroke="#7f806c" stroke-width="0.6"/>
<circle cx="105" cy="336.3" r="1.5" fill="#b7b8a2" stroke="#7f806c" stroke-width="0.6"/>
<circle cx="130" cy="335.5" r="1.5" fill="#b7b8a2" stroke="#7f806c" stroke-width="0.6"/>
<circle cx="135" cy="335.5" r="1.5" fill="#b7b8a2" stroke="#7f806c" stroke-width="0.6"/>
<rect x="130.5" y="343" width="15.8" height="7.4" fill="#b8cdc2"/>
<line x1="146.3" y1="346.7" x2="154" y2="346.7" stroke="#aaa" stroke-width="0.8"/>
<circle cx="135" cy="346.7" r="1.9" fill="#1d5a45" stroke="none" stroke-width="0.6"/>
<circle cx="142.5" cy="346.7" r="1.9" fill="#1d5a45" stroke="none" stroke-width="0.6"/>
<circle cx="153.8" cy="346" r="1.9" fill="#1d5a45" stroke="none" stroke-width="0.6"/>
<circle cx="155" cy="347.3" r="1.9" fill="#1d5a45" stroke="none" stroke-width="0.6"/>
<rect x="125" y="351.8" width="5.5" height="5" fill="#e5e8d4"/>
<line x1="112.5" y1="354.4" x2="124" y2="354.4" stroke="#aaa" stroke-width="0.8"/>
<circle cx="112.5" cy="354.4" r="1.5" fill="#b7b8a2" stroke="#7f806c" stroke-width="0.6"/>
<circle cx="123.8" cy="354.4" r="1.5" fill="#b7b8a2" stroke="#7f806c" stroke-width="0.6"/>
<circle cx="128.7" cy="354.4" r="1.5" fill="#b7b8a2" stroke="#7f806c" stroke-width="0.6"/>
<circle cx="135" cy="354.4" r="1.5" fill="#b7b8a2" stroke="#7f806c" stroke-width="0.6"/>
<line x1="130.5" y1="298.75" x2="130.5" y2="362" stroke="#222" stroke-width="1"/>
<circle cx="178.7" cy="305.3" r="0.95" fill="#333" stroke="none" stroke-width="0.6"/>
<circle cx="178.7" cy="308.9" r="0.95" fill="#333" stroke="none" stroke-width="0.6"/>
<circle cx="178.7" cy="328" r="0.95" fill="#333" stroke="none" stroke-width="0.6"/>
<circle cx="178.7" cy="345" r="0.95" fill="#333" stroke="none" stroke-width="0.6"/>
<circle cx="178.7" cy="348.8" r="0.95" fill="#333" stroke="none" stroke-width="0.6"/>
<text x="60.4" y="314.5" font-size="7.8" fill="#222" text-anchor="end" textLength="27.9" lengthAdjust="spacingAndGlyphs" stroke="#222" stroke-width="0.2">αIL-10R</text>
<text x="60.4" y="333.6" font-size="8" fill="#222" text-anchor="end" textLength="38" lengthAdjust="spacingAndGlyphs" stroke="#222" stroke-width="0.2">Ruxolitinib</text>
<text x="60.4" y="352.5" font-size="8" fill="#222" text-anchor="end" textLength="53.7" lengthAdjust="spacingAndGlyphs" stroke="#222" stroke-width="0.2">Pyrimethamine</text>
<text x="90.2" y="371.8" font-size="8" fill="#222" font-style="italic" textLength="35.4" lengthAdjust="spacingAndGlyphs" stroke="#222" stroke-width="0.2">Untreated</text>
<path d="M127.2,368.6 L129.1,364.9 L130.4,365.9 Z" stroke="none" fill="#222" stroke-width="1"/>
<circle cx="167.6" cy="368.9" r="1.8" fill="#1d5a45" stroke="none" stroke-width="0.6"/>
<text x="171.6" y="371.6" font-size="8" fill="#222" font-style="italic" textLength="28.4" lengthAdjust="spacingAndGlyphs" stroke="#222" stroke-width="0.2">Cacna1c</text>
<circle cx="167.6" cy="377" r="1.5" fill="#b7b8a2" stroke="#7f806c" stroke-width="0.6"/>
<text x="171.6" y="379.6" font-size="8" fill="#222" font-style="italic" textLength="13.5" lengthAdjust="spacingAndGlyphs" stroke="#222" stroke-width="0.2">Il10</text>
<text x="210.4" y="231.3" font-size="11.8" fill="#000" font-weight="bold" textLength="6.9" lengthAdjust="spacingAndGlyphs">E</text>
<text x="222.6" y="238.8" font-size="8" fill="#c62447" font-style="italic" textLength="18.4" lengthAdjust="spacingAndGlyphs">pBIC</text>
<text x="240.6" y="238.8" font-size="8" fill="#336391" font-style="italic" textLength="20.2" lengthAdjust="spacingAndGlyphs">/pBIC</text>
<text x="261.4" y="234.8" font-size="4.8" fill="#336391" font-style="italic" textLength="9.3" lengthAdjust="spacingAndGlyphs">Δ10</text>
<text x="234.8" y="246.8" font-size="8" fill="#c62447" font-style="italic" textLength="24.4" lengthAdjust="spacingAndGlyphs">tumors</text>
<path d="M232.70,256.66 C234.17,256.26 235.64,255.87 237.11,255.48 C237.40,253.03 240.54,251.17 244.46,251.17 L247.01,251.36 L247.69,249.60 L248.67,251.17 L249.46,249.89 L250.14,251.95 C251.32,252.74 252.30,253.81 251.91,254.89 C250.34,257.05 246.42,258.32 242.50,258.32 C240.05,258.32 238.09,257.44 237.11,256.66 C235.64,256.85 234.17,256.95 232.70,256.66 Z" stroke="#c8c8c8" fill="#e2e2e2" stroke-width="0.4"/>
<ellipse cx="242.50" cy="254.70" rx="4.12" ry="2.25" fill="#f0d2d9"/>
<circle cx="242.79399999999998" cy="254.59799999999998" r="1.47" fill="#a80f2e" stroke="none" stroke-width="0.6"/>
<path d="M242.79,254.60 C248.38,252.93 254.26,253.13 257.40,257.64" stroke="#c0143c" fill="none" stroke-width="0.8"/>
<path d="M258.28,259.60 L256.12,257.73 L258.57,256.75 Z" stroke="none" fill="#a80f2e" stroke-width="1"/>
<ellipse cx="257.8" cy="261.40000000000003" rx="7.7" ry="3.2" fill="#d4d4d4" stroke="#aaa" stroke-width="0.6"/>
<rect x="250.10000000000002" y="259.6" width="15.4" height="1.8" fill="#d4d4d4"/>
<line x1="250.10000000000002" y1="259.6" x2="250.10000000000002" y2="261.40000000000003" stroke="#aaa" stroke-width="0.6"/>
<line x1="265.5" y1="259.6" x2="265.5" y2="261.40000000000003" stroke="#aaa" stroke-width="0.6"/>
<ellipse cx="257.8" cy="259.6" rx="7.7" ry="3.2" fill="#e4e4e4" stroke="#a8a8a8" stroke-width="0.6"/>
<ellipse cx="257.8" cy="259.8" rx="6.006" ry="1.984" fill="#f2cdd5" stroke="#d9a0ae" stroke-width="0.4"/>
<line x1="255" y1="268.7" x2="255" y2="359.2" stroke="#222" stroke-width="1.1"/>
<line x1="254.4" y1="359.2" x2="366" y2="359.2" stroke="#222" stroke-width="1.1"/>
<line x1="252.2" y1="358.5" x2="255" y2="358.5" stroke="#222" stroke-width="0.9"/>
<text x="248.7" y="361.2" font-size="8.2" fill="#222" text-anchor="end" stroke="#222" stroke-width="0.2">0</text>
<line x1="252.2" y1="338.94" x2="255" y2="338.94" stroke="#222" stroke-width="0.9"/>
<text x="248.7" y="341.64" font-size="8.2" fill="#222" text-anchor="end" stroke="#222" stroke-width="0.2">25</text>
<line x1="252.2" y1="319.38" x2="255" y2="319.38" stroke="#222" stroke-width="0.9"/>
<text x="248.7" y="322.08" font-size="8.2" fill="#222" text-anchor="end" stroke="#222" stroke-width="0.2">50</text>
<line x1="252.2" y1="299.82" x2="255" y2="299.82" stroke="#222" stroke-width="0.9"/>
<text x="248.7" y="302.52" font-size="8.2" fill="#222" text-anchor="end" stroke="#222" stroke-width="0.2">75</text>
<line x1="252.2" y1="280.26" x2="255" y2="280.26" stroke="#222" stroke-width="0.9"/>
<text x="248.7" y="282.96" font-size="8.2" fill="#222" text-anchor="end" stroke="#222" stroke-width="0.2">100</text>
<line x1="254.4" y1="359.2" x2="254.4" y2="361.6" stroke="#222" stroke-width="0.9"/>
<text x="254.4" y="371.9" font-size="8.2" fill="#222" text-anchor="middle" stroke="#222" stroke-width="0.2">0</text>
<line x1="285.6" y1="359.2" x2="285.6" y2="361.6" stroke="#222" stroke-width="0.9"/>
<text x="285.6" y="371.9" font-size="8.2" fill="#222" text-anchor="middle" stroke="#222" stroke-width="0.2">6.25</text>
<line x1="316" y1="359.2" x2="316" y2="361.6" stroke="#222" stroke-width="0.9"/>
<text x="316" y="371.9" font-size="8.2" fill="#222" text-anchor="middle" stroke="#222" stroke-width="0.2">12.5</text>
<line x1="346.2" y1="359.2" x2="346.2" y2="361.6" stroke="#222" stroke-width="0.9"/>
<text x="346.2" y="371.9" font-size="8.2" fill="#222" text-anchor="middle" stroke="#222" stroke-width="0.2">25</text>
<text x="0" y="0" font-size="8.6" fill="#333" text-anchor="middle" textLength="79.5" lengthAdjust="spacingAndGlyphs" stroke="#333" stroke-width="0.2" transform="translate(228.9,314.8) rotate(-90)">% Normalized live GFP+</text>
<line x1="285.6" y1="319.2" x2="285.6" y2="345.4" stroke="#5b6f86" stroke-width="0.8"/>
<line x1="284.1" y1="319.2" x2="287.1" y2="319.2" stroke="#5b6f86" stroke-width="0.8"/>
<line x1="284.1" y1="345.4" x2="287.1" y2="345.4" stroke="#5b6f86" stroke-width="0.8"/>
<line x1="316" y1="315.9" x2="316" y2="340.5" stroke="#5b6f86" stroke-width="0.8"/>
<line x1="314.5" y1="315.9" x2="317.5" y2="315.9" stroke="#5b6f86" stroke-width="0.8"/>
<line x1="314.5" y1="340.5" x2="317.5" y2="340.5" stroke="#5b6f86" stroke-width="0.8"/>
<line x1="346.2" y1="312" x2="346.2" y2="349.5" stroke="#5b6f86" stroke-width="0.8"/>
<line x1="344.7" y1="312" x2="347.7" y2="312" stroke="#5b6f86" stroke-width="0.8"/>
<line x1="344.7" y1="349.5" x2="347.7" y2="349.5" stroke="#5b6f86" stroke-width="0.8"/>
<line x1="285.6" y1="305.4" x2="285.6" y2="324.1" stroke="#d06478" stroke-width="0.8"/>
<line x1="284.1" y1="305.4" x2="287.1" y2="305.4" stroke="#d06478" stroke-width="0.8"/>
<line x1="284.1" y1="324.1" x2="287.1" y2="324.1" stroke="#d06478" stroke-width="0.8"/>
<line x1="316" y1="297.2" x2="316" y2="337.2" stroke="#d06478" stroke-width="0.8"/>
<line x1="314.5" y1="297.2" x2="317.5" y2="297.2" stroke="#d06478" stroke-width="0.8"/>
<line x1="314.5" y1="337.2" x2="317.5" y2="337.2" stroke="#d06478" stroke-width="0.8"/>
<line x1="346.2" y1="321.8" x2="346.2" y2="337.2" stroke="#d06478" stroke-width="0.8"/>
<line x1="344.7" y1="321.8" x2="347.7" y2="321.8" stroke="#d06478" stroke-width="0.8"/>
<line x1="344.7" y1="337.2" x2="347.7" y2="337.2" stroke="#d06478" stroke-width="0.8"/>
<path d="M254.4,280.5 L285.6,331.6 L316,327.4 L346.2,329" stroke="#31587a" fill="none" stroke-width="1.1"/>
<path d="M254.4,280.5 L285.6,314.6 L316,316.9 L346.2,330.7" stroke="#c8183c" fill="none" stroke-width="1.15"/>
<circle cx="285.6" cy="331.6" r="2.0" fill="#1f4266" stroke="none" stroke-width="0.6"/>
<circle cx="316" cy="327.4" r="2.0" fill="#1f4266" stroke="none" stroke-width="0.6"/>
<circle cx="346.2" cy="329" r="2.0" fill="#1f4266" stroke="none" stroke-width="0.6"/>
<circle cx="254.4" cy="280.5" r="2.2" fill="#c8183c" stroke="none" stroke-width="0.6"/>
<circle cx="285.6" cy="314.6" r="2.2" fill="#c8183c" stroke="none" stroke-width="0.6"/>
<circle cx="316" cy="316.9" r="2.2" fill="#c8183c" stroke="none" stroke-width="0.6"/>
<circle cx="346.2" cy="330.7" r="2.2" fill="#c8183c" stroke="none" stroke-width="0.6"/>
<text x="285.6" y="305" font-size="8" fill="#333" text-anchor="middle" stroke="#333" stroke-width="0.2">*</text>
<circle cx="277.3" cy="268.1" r="1.4" fill="#c8183c" stroke="none" stroke-width="0.6"/>
<text x="280.6" y="270.6" font-size="7.4" fill="#c62447" textLength="16" lengthAdjust="spacingAndGlyphs">pBIC </text>
<text x="298.8" y="270.6" font-size="7.4" fill="#c62447" font-style="italic" textLength="65.4" lengthAdjust="spacingAndGlyphs">[IC50 11.98 μg/mL]</text>
<circle cx="277.3" cy="278.8" r="1.4" fill="#1f4266" stroke="none" stroke-width="0.6"/>
<text x="280.6" y="281.2" font-size="7.4" fill="#336391" textLength="16" lengthAdjust="spacingAndGlyphs">pBIC</text>
<text x="296.8" y="277.8" font-size="4.6" fill="#336391" textLength="8.4" lengthAdjust="spacingAndGlyphs">Δ10</text>
<text x="307.3" y="281.2" font-size="7.4" fill="#336391" font-style="italic" textLength="57.9" lengthAdjust="spacingAndGlyphs">[IC50 6.37 μg/mL]</text>
<defs><linearGradient id="gr" x1="0" x2="1"><stop offset="0" stop-color="#fff"/><stop offset="1" stop-color="#111"/></linearGradient></defs>
<path d="M262.6,381.5 L346.2,376.6 L346.2,381.5 Z" stroke="none" fill="url(#gr)" stroke-width="1"/>
<text x="274.1" y="392.2" font-size="9" fill="#222" textLength="72.1" lengthAdjust="spacingAndGlyphs" stroke="#222" stroke-width="0.2">αCD20 μg/mL (24h)</text>
<text x="377.6" y="231.3" font-size="11.8" fill="#000" font-weight="bold">F</text>
<text x="407.5" y="255.8" font-size="9" fill="#222" font-style="italic" textLength="68.2" lengthAdjust="spacingAndGlyphs" stroke="#222" stroke-width="0.2">αCD20 ± EDTA</text>
<line x1="412.2" y1="263.5" x2="412.2" y2="351.6" stroke="#222" stroke-width="1.1"/>
<line x1="411.7" y1="351.1" x2="464" y2="351.1" stroke="#222" stroke-width="1.1"/>
<line x1="409.4" y1="350.8" x2="412.2" y2="350.8" stroke="#222" stroke-width="0.9"/>
<text x="405.8" y="353.40000000000003" font-size="8.2" fill="#222" text-anchor="end" stroke="#222" stroke-width="0.2">0</text>
<line x1="409.4" y1="322.96500000000003" x2="412.2" y2="322.96500000000003" stroke="#222" stroke-width="0.9"/>
<text x="405.8" y="325.56500000000005" font-size="8.2" fill="#222" text-anchor="end" stroke="#222" stroke-width="0.2">50</text>
<line x1="409.4" y1="295.13" x2="412.2" y2="295.13" stroke="#222" stroke-width="0.9"/>
<text x="405.8" y="297.73" font-size="8.2" fill="#222" text-anchor="end" stroke="#222" stroke-width="0.2">100</text>
<line x1="409.4" y1="267.295" x2="412.2" y2="267.295" stroke="#222" stroke-width="0.9"/>
<text x="405.8" y="269.89500000000004" font-size="8.2" fill="#222" text-anchor="end" stroke="#222" stroke-width="0.2">150</text>
<line x1="412.2" y1="295" x2="478" y2="295" stroke="#7a7a7a" stroke-width="0.85" stroke-dasharray="1 1.2"/>
<text x="479.7" y="297.2" font-size="8" fill="#666" font-style="italic" textLength="36" lengthAdjust="spacingAndGlyphs">Untreated</text>
<line x1="418.1" y1="351.2" x2="418.1" y2="353.6" stroke="#222" stroke-width="0.9"/>
<text x="418.1" y="364" font-size="7.6" fill="#222" text-anchor="middle" stroke="#222" stroke-width="0.2">−</text>
<line x1="433.6" y1="351.2" x2="433.6" y2="353.6" stroke="#222" stroke-width="0.9"/>
<text x="433.6" y="364" font-size="7.6" fill="#222" text-anchor="middle" stroke="#222" stroke-width="0.2">+</text>
<line x1="448.1" y1="351.2" x2="448.1" y2="353.6" stroke="#222" stroke-width="0.9"/>
<text x="448.1" y="364" font-size="7.6" fill="#222" text-anchor="middle" stroke="#222" stroke-width="0.2">−</text>
<line x1="463.1" y1="351.2" x2="463.1" y2="353.6" stroke="#222" stroke-width="0.9"/>
<text x="463.1" y="364" font-size="7.6" fill="#222" text-anchor="middle" stroke="#222" stroke-width="0.2">+</text>
<text x="472.4" y="364.3" font-size="7.8" fill="#222" textLength="20.3" lengthAdjust="spacingAndGlyphs" stroke="#222" stroke-width="0.2">EDTA</text>
<path d="M417.5,289.6 V271.9 H447.3 V274.2" stroke="#555" fill="none" stroke-width="0.8"/>
<path d="M417.5,282.9 H432.3 V284.8" stroke="#555" fill="none" stroke-width="0.8"/>
<path d="M447.3,290.6 V282.9 H462.8 V286" stroke="#555" fill="none" stroke-width="0.8"/>
<text x="433.5" y="270.6" font-size="9" fill="#333" text-anchor="middle" stroke="#333" stroke-width="0.2">*</text>
<text x="425.2" y="282.2" font-size="9" fill="#333" text-anchor="middle" stroke="#333" stroke-width="0.2">*</text>
<text x="456.8" y="282.6" font-size="9" fill="#333" text-anchor="middle" textLength="13.4" lengthAdjust="spacingAndGlyphs" stroke="#333" stroke-width="0.2">***</text>
<line x1="418.5" y1="304.7" x2="418.5" y2="339.6" stroke="#8e1b2e" stroke-width="0.8"/>
<rect x="416.2" y="308" width="4.6" height="20.8" fill="#f2a58e"/>
<line x1="416.2" y1="317.6" x2="420.8" y2="317.6" stroke="#8e1b2e" stroke-width="0.8"/>
<circle cx="418.3" cy="304.7" r="1.5" fill="#8e1b2e" stroke="none" stroke-width="0.6"/>
<circle cx="418.5" cy="310.4" r="1.5" fill="#8e1b2e" stroke="none" stroke-width="0.6"/>
<circle cx="417.2" cy="317.6" r="1.5" fill="#8e1b2e" stroke="none" stroke-width="0.6"/>
<circle cx="419.2" cy="317.6" r="1.5" fill="#8e1b2e" stroke="none" stroke-width="0.6"/>
<circle cx="418.5" cy="339.6" r="1.5" fill="#8e1b2e" stroke="none" stroke-width="0.6"/>
<line x1="433.1" y1="295" x2="433.1" y2="311.5" stroke="#8e1b2e" stroke-width="0.8"/>
<rect x="430.8" y="294.5" width="4.9" height="9.7" fill="#e25a5e"/>
<circle cx="431.5" cy="295" r="1.4" fill="#8e1b2e" stroke="none" stroke-width="0.6"/>
<circle cx="433.1" cy="295" r="1.4" fill="#8e1b2e" stroke="none" stroke-width="0.6"/>
<circle cx="434.6" cy="295" r="1.4" fill="#8e1b2e" stroke="none" stroke-width="0.6"/>
<circle cx="434.8" cy="298" r="1.4" fill="#8e1b2e" stroke="none" stroke-width="0.6"/>
<circle cx="432.5" cy="299.6" r="1.4" fill="#8e1b2e" stroke="none" stroke-width="0.6"/>
<circle cx="434.3" cy="302.2" r="1.4" fill="#8e1b2e" stroke="none" stroke-width="0.6"/>
<circle cx="433.1" cy="311.5" r="1.4" fill="#8e1b2e" stroke="none" stroke-width="0.6"/>
<line x1="448" y1="325.8" x2="448" y2="346.6" stroke="#1f3f66" stroke-width="0.8"/>
<rect x="445.8" y="332.7" width="4.6" height="10.5" fill="#a9bbd3"/>
<circle cx="448.1" cy="325.8" r="1.4" fill="#1f3f66" stroke="none" stroke-width="0.6"/>
<circle cx="447" cy="338" r="1.4" fill="#1f3f66" stroke="none" stroke-width="0.6"/>
<circle cx="449.3" cy="339.6" r="1.4" fill="#1f3f66" stroke="none" stroke-width="0.6"/>
<circle cx="448.1" cy="341.2" r="1.4" fill="#1f3f66" stroke="none" stroke-width="0.6"/>
<circle cx="448.1" cy="346.6" r="1.4" fill="#1f3f66" stroke="none" stroke-width="0.6"/>
<line x1="462.3" y1="295" x2="462.3" y2="316.5" stroke="#1f3f66" stroke-width="0.8"/>
<rect x="460" y="295" width="4.4" height="18.5" fill="#9fb3cf"/>
<line x1="460" y1="305" x2="464.4" y2="305" stroke="#1f3f66" stroke-width="0.8"/>
<circle cx="461.2" cy="295" r="1.4" fill="#1f3f66" stroke="none" stroke-width="0.6"/>
<circle cx="463.2" cy="295" r="1.4" fill="#1f3f66" stroke="none" stroke-width="0.6"/>
<circle cx="462.3" cy="305" r="1.4" fill="#1f3f66" stroke="none" stroke-width="0.6"/>
<circle cx="462.3" cy="312.7" r="1.4" fill="#1f3f66" stroke="none" stroke-width="0.6"/>
<circle cx="462.3" cy="316.5" r="1.4" fill="#1f3f66" stroke="none" stroke-width="0.6"/>
<text x="0" y="0" font-size="7.6" fill="#333" text-anchor="middle" textLength="72.8" lengthAdjust="spacingAndGlyphs" stroke="#333" stroke-width="0.2" transform="translate(386.5,310.6) rotate(-90)">% Normalized live GFP</text>
<text x="0" y="0" font-size="4.6" fill="#333" text-anchor="middle" transform="translate(386.2,272.5) rotate(-90)">+</text>
<circle cx="415.1" cy="378.7" r="1.7" fill="#8e1b2e" stroke="none" stroke-width="0.6"/>
<text x="419.5" y="381" font-size="7.8" fill="#c62447" textLength="16.6" lengthAdjust="spacingAndGlyphs">pBIC</text>
<circle cx="446.4" cy="378.7" r="1.7" fill="#1f4266" stroke="none" stroke-width="0.6"/>
<text x="451.1" y="381" font-size="7.8" fill="#336391" textLength="16.9" lengthAdjust="spacingAndGlyphs">pBIC</text>
<text x="468.2" y="377.4" font-size="4.8" fill="#336391" textLength="9.2" lengthAdjust="spacingAndGlyphs">Δ10</text>
<rect x="0.5" y="0.5" width="519" height="401" fill="none" stroke="#4a4a4a" stroke-width="1"/>
</svg>
</body></html>
